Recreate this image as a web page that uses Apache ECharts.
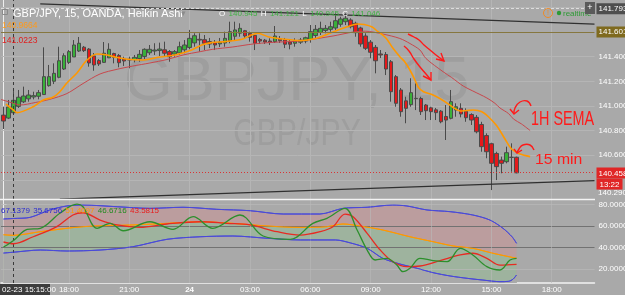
<!DOCTYPE html>
<html><head><meta charset="utf-8">
<script src="https://cdn.jsdelivr.net/npm/echarts@6/dist/echarts.min.js"></script>
<style>html,body{margin:0;padding:0;background:#a9a9a9;}#c{width:625px;height:295px;}</style>
</head><body><div id="c"></div>
<script>
// ---------- DATA ----------
const N_SLOTS = 118; // 15-minute slots from 02-23 14:45 to 02-24 20:00
const slots = Array.from({length: N_SLOTS}, (_, i) => String(i));
const tickIdx = [13, 25, 37, 49, 61, 73, 85, 97, 109];
const tickLabels = ['18:00', '21:00', '24', '03:00', '06:00', '09:00', '12:00', '15:00', '18:00'];
const priceTicks = [140.6, 140.8, 141.0, 141.2, 141.4];
const priceGrid = [140.4, 140.6, 140.8, 141.0, 141.2, 141.4, 141.6, 141.8];
const oscTicks = [20, 40, 60, 80];

const haOpen = [140.926,140.902,140.945,140.997,141.034,141.058,141.073,141.079,141.093,141.165,
141.201,141.233,141.300,141.354,141.398,141.446,141.477,141.462,141.406,141.369,
141.354,141.391,141.426,141.410,141.381,141.373,141.376,141.385,141.402,141.432,
141.446,141.450,141.456,141.442,141.421,141.431,141.456,141.475,141.512,141.541,
141.538,141.523,141.513,141.504,141.511,141.530,141.566,141.591,141.611,141.589,
141.573,141.540,141.534,141.527,141.522,141.544,141.537,141.519,141.509,141.518,
141.527,141.540,141.572,141.597,141.613,141.622,141.633,141.663,141.684,141.698,
141.671,141.633,141.568,141.518,141.476,141.422,141.418,141.359,141.238,141.130,
141.042,141.011,141.060,141.061,141.008,140.985,140.969,140.958,140.915,140.900,
140.967,140.981,140.958,140.931,140.908,140.850,140.760,140.694,140.615,140.561,
140.548,140.584,140.584];
const haHigh = [140.992,141.049,141.121,141.130,141.157,141.130,141.116,141.130,141.476,141.333,
141.346,141.481,141.428,141.454,141.535,141.560,141.487,141.470,141.430,141.381,
141.519,141.509,141.432,141.422,141.400,141.400,141.414,141.454,141.468,141.495,
141.509,141.514,141.522,141.454,141.454,141.522,141.535,141.617,141.590,141.590,
141.576,141.552,141.535,141.552,141.603,141.684,141.684,141.671,141.617,141.603,
141.576,141.552,141.544,141.549,141.649,141.568,141.552,141.541,141.549,141.552,
141.562,141.657,141.657,141.684,141.657,141.684,141.752,141.724,141.752,141.712,
141.684,141.643,141.590,141.535,141.495,141.454,141.438,141.373,141.251,141.146,
141.075,141.225,141.184,141.075,141.016,140.994,140.984,140.967,141.008,141.130,
141.022,141.022,140.981,140.941,140.927,140.872,140.778,140.702,140.629,140.589,
140.670,140.697,140.589];
const haLow = [140.813,140.894,140.945,140.984,141.024,141.035,141.054,141.054,141.089,141.157,
141.178,141.225,141.292,141.341,141.398,141.438,141.438,141.319,141.286,141.325,
141.349,141.389,141.346,141.314,141.325,141.306,141.354,141.359,141.379,141.414,
141.414,141.406,141.400,141.359,141.400,141.414,141.428,141.460,141.481,141.441,
141.454,141.470,141.454,141.479,141.481,141.509,141.535,141.562,141.552,141.522,
141.454,141.503,141.503,141.495,141.511,141.511,141.470,141.460,141.481,141.503,
141.509,141.514,141.549,141.576,141.590,141.603,141.617,141.643,141.657,141.630,
141.562,141.481,141.454,141.387,141.265,141.389,141.251,141.035,140.994,140.913,
140.860,140.994,140.967,140.927,140.886,140.886,140.886,140.860,140.724,140.892,
140.913,140.908,140.872,140.846,140.778,140.629,140.576,140.318,140.399,140.454,
140.535,140.467,140.454];
const haClose = [140.878,140.992,141.046,141.071,141.081,141.089,141.084,141.108,141.238,141.238,
141.265,141.367,141.408,141.441,141.495,141.509,141.449,141.349,141.333,141.341,
141.428,141.460,141.395,141.351,141.365,141.379,141.395,141.419,141.460,141.460,
141.454,141.462,141.428,141.400,141.441,141.481,141.495,141.549,141.570,141.535,
141.509,141.503,141.495,141.519,141.549,141.603,141.617,141.630,141.568,141.557,
141.509,141.527,141.519,141.517,141.568,141.530,141.501,141.501,141.527,141.535,
141.554,141.603,141.622,141.630,141.630,141.643,141.692,141.706,141.712,141.643,
141.595,141.503,141.468,141.436,141.367,141.414,141.300,141.116,141.022,140.954,
140.981,141.108,141.062,140.954,140.962,140.954,140.946,140.872,140.886,141.035,
140.994,140.935,140.905,140.886,140.791,140.670,140.629,140.535,140.508,140.535,
140.621,140.583,140.458];

// 15-min EMA (orange) : [slot position, price]
const emaFast = [[0.5,141.016],[2,140.966],[2.7,140.946],[5.9,140.994],[7.9,141.049],[9.8,141.071],
[11.2,141.116],[12.6,141.187],[14.6,141.268],[16.6,141.373],[18.6,141.422],[20.6,141.414],
[22.6,141.393],[24.6,141.379],[27.5,141.373],[30.7,141.395],[34.1,141.414],[37.4,141.454],
[39.4,141.495],[41.4,141.514],[44,141.522],[47.4,141.541],[49.3,141.576],[50.6,141.590],
[52.6,141.562],[56,141.541],[59.2,141.531],[61.3,141.541],[63.3,141.564],[66.5,141.617],
[68.5,141.645],[70.3,141.665],[71.7,141.661],[73.3,141.641],[74.3,141.608],[75.3,141.580],
[76.2,141.544],[77.4,141.470],[78.8,141.400],[79.8,141.357],[80.8,141.292],[81.8,141.211],
[82.5,141.150],[83.5,141.116],[85.4,141.089],[87.4,141.045],[89.4,140.988],[90.8,140.959],
[92.1,140.963],[93.4,140.967],[95.1,140.954],[96.4,140.913],[98.1,140.838],[99.7,140.732],
[101,140.651],[102.7,140.610],[104.7,140.589]];
// 1H EMA (red)
const emaSlow = [[-0.5,141.053],[2,141.022],[3.3,141.008],[6.3,141.028],[9.2,141.054],[12.6,141.101],
[15.8,141.182],[19.2,141.260],[22.6,141.298],[25.7,141.324],[29.1,141.349],[32.5,141.377],
[35.7,141.414],[39.1,141.441],[41.6,141.460],[45.6,141.479],[49.6,141.503],[53,141.515],
[56.4,141.522],[59,141.527],[65.5,141.568],[69.5,141.600],[71.9,141.607],[75.4,141.584],
[78.8,141.548],[80.8,141.507],[82.8,141.454],[84,141.385],[87.4,141.278],[89.1,141.231],
[91.4,141.162],[93.3,141.122],[96.1,141.065],[97.7,141.022],[98.7,140.984],[100.4,140.939],
[101.4,140.894],[103,140.854],[104.7,140.801]];
// trend lines
const trendTop = [[7.3,141.828],[117.5,141.665]];
const trendBottom = [[11.2,140.245],[117.5,140.395]];
// horizontal levels
const lvlDashed = 141.793, lvlOlive = 141.601, lvlLast = 140.458;
const cursorSlot = 2;

// oscillator pane
const oscUpper = [[0,66.7],[2,67.14],[5.3,68.2],[9.2,75.1],[12.6,78.8],[15.8,79.7],[22.6,78.1],[29.1,76.6],
[35.7,77.6],[42.4,75.7],[49,74.4],[55.6,71.3],[62.9,71.3],[67.5,76.6],[72.3,77.6],[77.4,79.7],[80.2,78.8],
[84.2,75.1],[88.8,73.5],[93.3,70.4],[96.7,65.7],[99.3,58.0],[101.1,50.1],[102,44.0]];
const oscLower = [[0,34.9],[2,35.68],[7.3,37.7],[12.6,36.8],[19.2,37.7],[25.7,40.8],[32.5,47.7],[39.1,50.1],
[45.6,50.8],[52.4,48.7],[59,47.1],[66,47.1],[69,44.3],[72.3,39.3],[75.4,30.0],[78.8,24.7],[82.2,20.7],
[85.4,16.6],[88.8,13.5],[92.2,11.3],[95.3,9.7],[98.7,8.2],[100.4,8.5],[101.3,10.5],[102,14.4]];
const oscBasis = [[0,52.0],[2,51.41],[7.3,54.8],[15.8,59.5],[25.7,61.1],[32.5,62.6],[39.1,64.1],[45.6,62.6],
[52.4,60.1],[59,58.9],[64.3,59.5],[67.5,62.0],[70.9,60.1],[75.4,56.4],[80.8,50.1],[85.4,45.5],[89.4,41.5],
[93.3,39.3],[97.3,34.7],[102,30.0]];
const oscGreen = [[0,40.5],[2,46.67],[4.7,57.0],[7.3,58.0],[11.2,72.0],[14.6,80.5],[15.8,78.1],[18.6,58.0],
[21.2,62.6],[23.8,55.7],[29.1,64.1],[33.7,57.0],[37.7,68.8],[41.6,58.0],[47,70.4],[51.6,50.8],[57,47.7],
[61.5,62.6],[64.3,67.3],[67.9,76.6],[70.3,56.4],[72.3,37.7],[73.9,28.4],[76.2,30.0],[78.2,23.7],[79.4,17.5],
[80.8,20.7],[82.8,30.0],[85.4,27.8],[88.2,26.8],[90.8,39.3],[93.3,33.1],[96.1,22.2],[98.7,19.1],[100.7,28.4],[102,30.0]];
const oscRed = [[0,45.2],[2,43.58],[5.9,50.1],[10.6,59.5],[13.8,70.4],[15.8,72.5],[19.2,65.7],[22.6,61.1],
[27.1,58.9],[32.5,62.0],[39.1,64.1],[44.4,62.6],[49,61.1],[54.4,54.8],[59,51.7],[62.9,54.8],[65.5,59.5],
[67.9,71.3],[69.5,68.8],[72.3,53.3],[74.9,37.7],[77.4,26.8],[80.2,22.2],[82.8,22.8],[86.8,27.8],[90.8,33.1],
[93.3,34.7],[96.1,30.0],[98.7,23.7],[102,24.4]];

// ---------- CHART ----------
const FONT = "'Liberation Sans', Arial, sans-serif";
const BG = '#a9a9a9';
const chart = echarts.init(document.getElementById('c'), null, {renderer: 'canvas', width: 625, height: 295});
const candleData = haOpen.map((o, i) => [o, haClose[i], haLow[i], haHigh[i]]);
const noLabel = {show: false};

const option = {
  animation: false,
  backgroundColor: BG,
  textStyle: {fontFamily: FONT},
  grid: [
    {left: 1, top: 0, width: 593.5, height: 199, containLabel: false, outerBoundsMode: 'none'},
    {left: 1, top: 200, width: 593.5, height: 83, containLabel: false, outerBoundsMode: 'none'}
  ],
  xAxis: [
    {type: 'category', gridIndex: 0, data: slots, boundaryGap: true, show: false},
    {type: 'value', gridIndex: 0, min: -0.5, max: 117.5, show: false},
    {type: 'value', gridIndex: 1, min: -0.5, max: 117.5,
      axisLine: {show: true, lineStyle: {color: '#f2f2f2', width: 1.5}},
      axisTick: {show: false}, splitLine: {show: false},
      axisLabel: {customValues: tickIdx, color: '#ffffff', fontSize: 8, margin: 3, fontFamily: FONT,
        formatter: v => { const k = tickIdx.indexOf(v); const t = k >= 0 ? tickLabels[k] : ''; return t === '24' ? '{b|24}' : t; },
        rich: {b: {fontWeight: 'bold', color: '#ffffff', fontSize: 8, fontFamily: FONT}}}
    }
  ],
  yAxis: [
    {type: 'value', gridIndex: 0, position: 'right', min: 140.2454, max: 141.86, scale: true,
      axisLine: {show: true, lineStyle: {color: '#eeeeee'}},
      axisTick: {show: true, customValues: priceTicks, length: 3, lineStyle: {color: '#eeeeee'}},
      axisLabel: {customValues: priceTicks, formatter: v => v.toFixed(3), color: '#ffffff', fontSize: 8, margin: 4, fontFamily: FONT},
      splitLine: {show: false}},
    {type: 'value', gridIndex: 1, position: 'right', min: 6.95, max: 84.39,
      axisLine: {show: true, lineStyle: {color: '#eeeeee'}},
      axisTick: {show: true, customValues: oscTicks, length: 3, lineStyle: {color: '#eeeeee'}},
      axisLabel: {customValues: oscTicks, formatter: v => v.toFixed(4), color: '#ffffff', fontSize: 8, margin: 4, fontFamily: FONT},
      splitLine: {show: false}}
  ],
  series: [
    // price pane grid lines
    {type: 'line', xAxisIndex: 1, yAxisIndex: 0, data: [[-3, 141]], showSymbol: false, lineStyle: {width: 0}, silent: true, z: 1,
      markLine: {silent: true, z: 1, symbol: ['none', 'none'], label: noLabel, animation: false,
        lineStyle: {color: '#b5b5b5', width: 1, type: 'solid'},
        data: priceGrid.map(p => ({yAxis: p})).concat(tickIdx.map(t => ({xAxis: t})))}},
    // candles
    {type: 'candlestick', xAxisIndex: 0, yAxisIndex: 0, data: candleData, barWidth: 4, z: 2,
      itemStyle: {color: '#39b039', color0: '#e3191b', borderColor: '#4a4a4a', borderColor0: '#4a4a4a', borderWidth: 1}},
    // EMAs
    {type: 'line', xAxisIndex: 1, yAxisIndex: 0, data: emaSlow, smooth: 0.3, showSymbol: false, z: 3,
      lineStyle: {color: '#c8474c', width: 1}},
    {type: 'line', xAxisIndex: 1, yAxisIndex: 0, data: emaFast, smooth: 0.3, showSymbol: false, z: 3,
      lineStyle: {color: '#ff9800', width: 1.6}},
    // trend lines
    {type: 'line', xAxisIndex: 1, yAxisIndex: 0, data: trendTop, showSymbol: false, z: 3, lineStyle: {color: '#303030', width: 1.2}},
    {type: 'line', xAxisIndex: 1, yAxisIndex: 0, data: trendBottom, showSymbol: false, z: 3, lineStyle: {color: '#303030', width: 1.2}},
    // levels + cursor
    {type: 'line', xAxisIndex: 1, yAxisIndex: 0, data: [[-3, 141]], showSymbol: false, lineStyle: {width: 0}, silent: true, z: 4,
      markLine: {silent: true, z: 4, symbol: ['none', 'none'], animation: false,
        data: [
          {yAxis: lvlDashed, lineStyle: {color: '#dcdcdc', type: [3, 2], width: 1},
            label: {show: true, position: 'end', distance: 2, formatter: lvlDashed.toFixed(3), color: '#fff', fontSize: 8, fontFamily: FONT,
              backgroundColor: '#4e4e4e', padding: [2, 3, 1, 2]}},
          {yAxis: lvlOlive, lineStyle: {color: '#86773f', type: 'solid', width: 1},
            label: {show: true, position: 'end', distance: 2, formatter: lvlOlive.toFixed(3), color: '#fff', fontSize: 8, fontFamily: FONT,
              backgroundColor: '#7f6a1e', padding: [2, 3, 1, 2]}},
          {yAxis: lvlLast, lineStyle: {color: '#d83434', type: [1, 2], width: 1},
            label: {show: true, position: 'end', distance: 2, offset: [0, 6], fontFamily: FONT,
              formatter: '{a|' + lvlLast.toFixed(3) + '}\n{b|13:22}',
              rich: {a: {color: '#fff', fontSize: 8, backgroundColor: '#e02626', padding: [2, 3, 1, 2], fontFamily: FONT},
                     b: {color: '#fff', fontSize: 8, backgroundColor: '#e02626', padding: [2, 3, 1, 3], fontFamily: FONT}}}},
          {xAxis: cursorSlot, lineStyle: {color: '#3a3a3a', type: [3, 3], width: 1}, label: noLabel}
        ]}},
    // oscillator fills
    {type: 'line', xAxisIndex: 2, yAxisIndex: 1, data: oscUpper, smooth: 0.3, showSymbol: false, z: 1,
      lineStyle: {color: '#4a4ad8', width: 1}, areaStyle: {color: '#bb9d9e', opacity: 1, origin: 'start'}},
    {type: 'line', xAxisIndex: 2, yAxisIndex: 1, data: oscBasis, smooth: 0.3, showSymbol: false, z: 1,
      lineStyle: {color: '#ff9800', width: 1}, areaStyle: {color: '#9eb39e', opacity: 1, origin: 'start'}},
    {type: 'line', xAxisIndex: 2, yAxisIndex: 1, data: oscLower, smooth: 0.3, showSymbol: false, z: 1,
      lineStyle: {color: '#4a4ad8', width: 1}, areaStyle: {color: BG, opacity: 1, origin: 'start'}},
    // oscillator grid lines
    {type: 'line', xAxisIndex: 2, yAxisIndex: 1, data: [[-3, 50]], showSymbol: false, lineStyle: {width: 0}, silent: true, z: 2,
      markLine: {silent: true, z: 2, symbol: ['none', 'none'], label: noLabel, animation: false,
        data: [
          {yAxis: 60, lineStyle: {color: '#727272', width: 1.2, type: 'solid'}},
          {yAxis: 40, lineStyle: {color: '#727272', width: 1.2, type: 'solid'}},
          {yAxis: 80, lineStyle: {color: '#b9b9b9', width: 1, type: 'solid', opacity: 0.7}},
          {yAxis: 20, lineStyle: {color: '#b9b9b9', width: 1, type: 'solid', opacity: 0.7}}
        ].concat(tickIdx.map(t => ({xAxis: t, lineStyle: {color: '#b9b9b9', width: 1, type: 'solid', opacity: 0.6}})))
         .concat([{xAxis: cursorSlot, lineStyle: {color: '#3a3a3a', type: [3, 3], width: 1}}])}},
    // oscillator lines
    {type: 'line', xAxisIndex: 2, yAxisIndex: 1, data: oscUpper, smooth: 0.3, showSymbol: false, z: 3, lineStyle: {color: '#4a4ad8', width: 1}},
    {type: 'line', xAxisIndex: 2, yAxisIndex: 1, data: oscLower, smooth: 0.3, showSymbol: false, z: 3, lineStyle: {color: '#4a4ad8', width: 1}},
    {type: 'line', xAxisIndex: 2, yAxisIndex: 1, data: oscBasis, smooth: 0.3, showSymbol: false, z: 3, lineStyle: {color: '#ff9800', width: 1}},
    {type: 'line', xAxisIndex: 2, yAxisIndex: 1, data: oscRed, smooth: 0.35, showSymbol: false, z: 3, lineStyle: {color: '#e82a22', width: 1.3}},
    {type: 'line', xAxisIndex: 2, yAxisIndex: 1, data: oscGreen, smooth: 0.35, showSymbol: false, z: 3, lineStyle: {color: '#2c8f2c', width: 1.3}}
  ],
  graphic: [
    // watermarks
    {type: 'text', x: 296.5, y: 83, z: 0, silent: true,
      style: {text: 'GBPJPY, 15', fill: '#9e9e9e', font: '63px ' + FONT, align: 'center', verticalAlign: 'middle', textAlign: 'center', textVerticalAlign: 'middle'}},
    {type: 'text', x: 297, y: 135, scaleX: 0.84, z: 0, silent: true,
      style: {text: 'GBP/JPY', fill: '#9e9e9e', font: '36px ' + FONT, align: 'center', verticalAlign: 'middle', textAlign: 'center', textVerticalAlign: 'middle'}},
    // pane separators
    {type: 'line', z: 100, shape: {x1: 0, y1: 199.5, x2: 595, y2: 199.5}, style: {stroke: '#f4f4f4', lineWidth: 1.5}},
    // header
    {type: 'rect', z: 100, shape: {x: 2.5, y: 9.5, width: 5, height: 5}, style: {stroke: '#8a8a8a', fill: null, lineWidth: 1}},
    {type: 'text', x: 13, y: 13.5, z: 100, style: {text: 'GBP/JPY, 15, OANDA, Heikin Ashi', fill: '#ffffff', font: '11px ' + FONT, verticalAlign: 'middle', textVerticalAlign: 'middle'}},
    {type: 'text', x: 181, y: 13.5, z: 100, style: {text: '▾', fill: '#8c8c8c', font: '9px ' + FONT, verticalAlign: 'middle', textVerticalAlign: 'middle'}},
    {type: 'text', x: 219, y: 13.5, z: 100, style: {
      text: '{w|O} {g|140.945} {w|H} {g|141.121} {w|L} {g|140.945} {w|C} {g|141.046}',
      verticalAlign: 'middle', textVerticalAlign: 'middle',
      rich: {w: {fill: '#ffffff', color: '#ffffff', fontSize: 8, fontFamily: FONT}, g: {fill: '#42b045', color: '#42b045', fontSize: 8, fontFamily: FONT}}}},
    {type: 'text', x: 2, y: 26, z: 100, style: {text: '140.9664', fill: '#ff9a1a', font: '8.5px ' + FONT, verticalAlign: 'middle', textVerticalAlign: 'middle'}},
    {type: 'text', x: 2, y: 40.5, z: 100, style: {text: '141.0223', fill: '#e01e1e', font: '8.5px ' + FONT, verticalAlign: 'middle', textVerticalAlign: 'middle'}},
    // realtime badge
    {type: 'circle', z: 100, shape: {cx: 548, cy: 13, r: 4.5}, style: {stroke: '#f08a24', fill: null, lineWidth: 1}},
    {type: 'text', x: 548, y: 13.5, z: 100, style: {text: '!', fill: '#f08a24', font: '7px ' + FONT, align: 'center', textAlign: 'center', verticalAlign: 'middle', textVerticalAlign: 'middle'}},
    {type: 'circle', z: 100, shape: {cx: 559, cy: 13, r: 2.2}, style: {fill: '#2e9a35'}},
    {type: 'text', x: 563, y: 13.5, z: 100, style: {text: 'realtime', fill: '#2e9a35', font: '8px ' + FONT, verticalAlign: 'middle', textVerticalAlign: 'middle'}},
    {type: 'rect', z: 100, shape: {x: 585, y: 2, width: 10, height: 12}, style: {fill: '#5a5a5a'}},
    {type: 'text', x: 590, y: 8, z: 101, style: {text: '+', fill: '#ffffff', font: '9px ' + FONT, align: 'center', textAlign: 'center', verticalAlign: 'middle', textVerticalAlign: 'middle'}},
    {type: 'text', x: 598, y: 193, z: 100, style: {text: '140.290', fill: '#ffffff', font: '8px ' + FONT, verticalAlign: 'middle', textVerticalAlign: 'middle'}},
    // oscillator legend
    {type: 'text', x: 1, y: 211, z: 100, style: {
      text: '{b|67.1379} {b|35.6756} {o|51.4097} {g|46.6716} {r|43.5815}',
      verticalAlign: 'middle', textVerticalAlign: 'middle',
      rich: {b: {fill: '#2a2ad0', color: '#2a2ad0', fontSize: 8, fontFamily: FONT}, o: {fill: '#ff9800', color: '#ff9800', fontSize: 8, fontFamily: FONT},
             g: {fill: '#1f8a1f', color: '#1f8a1f', fontSize: 8, fontFamily: FONT}, r: {fill: '#e81c1c', color: '#e81c1c', fontSize: 8, fontFamily: FONT}}}},
    // cursor time box
    {type: 'rect', z: 100, shape: {x: 0, y: 284, width: 50, height: 11}, style: {fill: '#3c3c3c'}},
    {type: 'text', x: 2, y: 289.5, z: 101, style: {text: '02-23 15:15:00', fill: '#ffffff', font: '8px ' + FONT, verticalAlign: 'middle', textVerticalAlign: 'middle'}},
    // hand-drawn annotations
    {type: 'polyline', z: 100, shape: {points: [[408, 34], [414, 37], [419, 40], [424, 45], [430, 50], [436, 55], [444, 61]], smooth: 0.5}, style: {stroke: '#ff1a1a', lineWidth: 1.4, fill: null}},
    {type: 'polyline', z: 100, shape: {points: [[436, 59], [444, 61], [441, 53]]}, style: {stroke: '#ff1a1a', lineWidth: 1.4, fill: null}},
    {type: 'polyline', z: 100, shape: {points: [[404, 46], [409, 51], [414, 59], [420, 67], [426, 74], [431, 80]], smooth: 0.5}, style: {stroke: '#ff1a1a', lineWidth: 1.4, fill: null}},
    {type: 'polyline', z: 100, shape: {points: [[423, 76], [431, 80], [431, 72]]}, style: {stroke: '#ff1a1a', lineWidth: 1.4, fill: null}},
    {type: 'polyline', z: 100, shape: {points: [[531, 106], [527, 101], [520, 102], [515, 108], [514, 114]], smooth: 0.5}, style: {stroke: '#ff1a1a', lineWidth: 1.4, fill: null}},
    {type: 'polyline', z: 100, shape: {points: [[510, 109], [514, 114], [519, 110]]}, style: {stroke: '#ff1a1a', lineWidth: 1.4, fill: null}},
    {type: 'polyline', z: 100, shape: {points: [[534, 150], [530, 145], [523, 145], [519, 149], [517, 153]], smooth: 0.5}, style: {stroke: '#ff1a1a', lineWidth: 1.4, fill: null}},
    {type: 'polyline', z: 100, shape: {points: [[514, 149], [517, 153], [522, 150]]}, style: {stroke: '#ff1a1a', lineWidth: 1.4, fill: null}},
    {type: 'text', x: 531, y: 119, scaleX: 0.72, z: 100, style: {text: '1H SEMA', fill: '#ff1a1a', font: '20px ' + FONT, verticalAlign: 'middle', textVerticalAlign: 'middle'}},
    {type: 'text', x: 535, y: 160, scaleX: 1.05, z: 100, style: {text: '15 min', fill: '#ff1a1a', font: '15px ' + FONT, verticalAlign: 'middle', textVerticalAlign: 'middle'}}
  ]
};
chart.setOption(option);
</script></body></html>
